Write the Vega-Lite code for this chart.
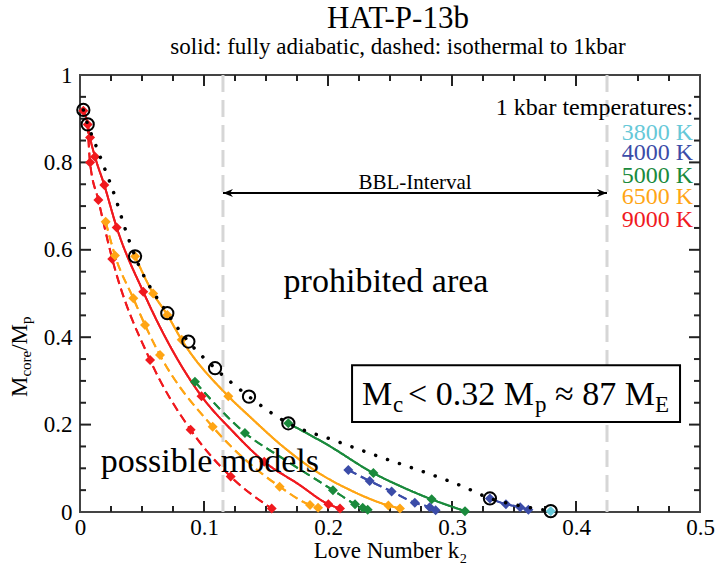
{
 "$schema": "https://vega.github.io/schema/vega-lite/v6.json",
 "width": 620,
 "height": 437,
 "autosize": {"type": "none"},
 "padding": {"left": 80, "top": 75, "right": 16, "bottom": 55},
 "background": "white",
 "config": {"view": {"stroke": "#444", "strokeWidth": 2}, "font": "Liberation Serif"},
 "title": {"text": "HAT-P-13b", "subtitle": "solid: fully adiabatic, dashed: isothermal to 1kbar", "font": "Liberation Serif", "fontSize": 31, "fontWeight": "normal", "color": "black", "subtitleFont": "Liberation Serif", "subtitleFontSize": 23, "subtitleColor": "black", "subtitlePadding": 1, "anchor": "middle", "frame": "group", "offset": 4, "dx": 8},
 "datasets": {
  "curves": [
   {"series": "r_a", "temp": "9000 K", "style": "adiabatic", "k": 0.0027, "m": 0.92},
   {"series": "r_a", "temp": "9000 K", "style": "adiabatic", "k": 0.0062, "m": 0.887},
   {"series": "r_a", "temp": "9000 K", "style": "adiabatic", "k": 0.0081, "m": 0.857},
   {"series": "r_a", "temp": "9000 K", "style": "adiabatic", "k": 0.0121, "m": 0.813},
   {"series": "r_a", "temp": "9000 K", "style": "adiabatic", "k": 0.0196, "m": 0.748},
   {"series": "r_a", "temp": "9000 K", "style": "adiabatic", "k": 0.0296, "m": 0.651},
   {"series": "r_a", "temp": "9000 K", "style": "adiabatic", "k": 0.051, "m": 0.504},
   {"series": "r_a", "temp": "9000 K", "style": "adiabatic", "k": 0.098, "m": 0.265},
   {"series": "r_a", "temp": "9000 K", "style": "adiabatic", "k": 0.123, "m": 0.185},
   {"series": "r_a", "temp": "9000 K", "style": "adiabatic", "k": 0.1486, "m": 0.115},
   {"series": "r_a", "temp": "9000 K", "style": "adiabatic", "k": 0.176, "m": 0.064},
   {"series": "r_a", "temp": "9000 K", "style": "adiabatic", "k": 0.2003, "m": 0.018},
   {"series": "r_a", "temp": "9000 K", "style": "adiabatic", "k": 0.2097, "m": 0.008},
   {"series": "r_i", "temp": "9000 K", "style": "isothermal", "k": 0.0062, "m": 0.887},
   {"series": "r_i", "temp": "9000 K", "style": "isothermal", "k": 0.0081, "m": 0.8},
   {"series": "r_i", "temp": "9000 K", "style": "isothermal", "k": 0.0148, "m": 0.714},
   {"series": "r_i", "temp": "9000 K", "style": "isothermal", "k": 0.026, "m": 0.579},
   {"series": "r_i", "temp": "9000 K", "style": "isothermal", "k": 0.0565, "m": 0.348},
   {"series": "r_i", "temp": "9000 K", "style": "isothermal", "k": 0.0892, "m": 0.188},
   {"series": "r_i", "temp": "9000 K", "style": "isothermal", "k": 0.1215, "m": 0.081},
   {"series": "r_i", "temp": "9000 K", "style": "isothermal", "k": 0.1546, "m": 0.008},
   {"series": "o_a", "temp": "6500 K", "style": "adiabatic", "k": 0.0444, "m": 0.585},
   {"series": "o_a", "temp": "6500 K", "style": "adiabatic", "k": 0.059, "m": 0.5},
   {"series": "o_a", "temp": "6500 K", "style": "adiabatic", "k": 0.0704, "m": 0.451},
   {"series": "o_a", "temp": "6500 K", "style": "adiabatic", "k": 0.082, "m": 0.394},
   {"series": "o_a", "temp": "6500 K", "style": "adiabatic", "k": 0.1196, "m": 0.265},
   {"series": "o_a", "temp": "6500 K", "style": "adiabatic", "k": 0.137, "m": 0.218},
   {"series": "o_a", "temp": "6500 K", "style": "adiabatic", "k": 0.164, "m": 0.149},
   {"series": "o_a", "temp": "6500 K", "style": "adiabatic", "k": 0.191, "m": 0.092},
   {"series": "o_a", "temp": "6500 K", "style": "adiabatic", "k": 0.218, "m": 0.05},
   {"series": "o_a", "temp": "6500 K", "style": "adiabatic", "k": 0.2487, "m": 0.015},
   {"series": "o_a", "temp": "6500 K", "style": "adiabatic", "k": 0.258, "m": 0.008},
   {"series": "o_i", "temp": "6500 K", "style": "isothermal", "k": 0.0207, "m": 0.664},
   {"series": "o_i", "temp": "6500 K", "style": "isothermal", "k": 0.0282, "m": 0.587},
   {"series": "o_i", "temp": "6500 K", "style": "isothermal", "k": 0.043, "m": 0.489},
   {"series": "o_i", "temp": "6500 K", "style": "isothermal", "k": 0.0524, "m": 0.428},
   {"series": "o_i", "temp": "6500 K", "style": "isothermal", "k": 0.0645, "m": 0.359},
   {"series": "o_i", "temp": "6500 K", "style": "isothermal", "k": 0.107, "m": 0.195},
   {"series": "o_i", "temp": "6500 K", "style": "isothermal", "k": 0.161, "m": 0.058},
   {"series": "o_i", "temp": "6500 K", "style": "isothermal", "k": 0.1855, "m": 0.016},
   {"series": "o_i", "temp": "6500 K", "style": "isothermal", "k": 0.192, "m": 0.01},
   {"series": "g_a", "temp": "5000 K", "style": "adiabatic", "k": 0.168, "m": 0.203},
   {"series": "g_a", "temp": "5000 K", "style": "adiabatic", "k": 0.2, "m": 0.153},
   {"series": "g_a", "temp": "5000 K", "style": "adiabatic", "k": 0.2366, "m": 0.089},
   {"series": "g_a", "temp": "5000 K", "style": "adiabatic", "k": 0.26, "m": 0.057},
   {"series": "g_a", "temp": "5000 K", "style": "adiabatic", "k": 0.2836, "m": 0.029},
   {"series": "g_a", "temp": "5000 K", "style": "adiabatic", "k": 0.3105, "m": 0.002},
   {"series": "g_i", "temp": "5000 K", "style": "isothermal", "k": 0.0927, "m": 0.298},
   {"series": "g_i", "temp": "5000 K", "style": "isothermal", "k": 0.133, "m": 0.181},
   {"series": "g_i", "temp": "5000 K", "style": "isothermal", "k": 0.165, "m": 0.12},
   {"series": "g_i", "temp": "5000 K", "style": "isothermal", "k": 0.204, "m": 0.05},
   {"series": "g_i", "temp": "5000 K", "style": "isothermal", "k": 0.2218, "m": 0.018},
   {"series": "g_i", "temp": "5000 K", "style": "isothermal", "k": 0.228, "m": 0.01},
   {"series": "g_i", "temp": "5000 K", "style": "isothermal", "k": 0.232, "m": 0.005},
   {"series": "b_i", "temp": "4000 K", "style": "isothermal", "k": 0.2164, "m": 0.096},
   {"series": "b_i", "temp": "4000 K", "style": "isothermal", "k": 0.2336, "m": 0.071},
   {"series": "b_i", "temp": "4000 K", "style": "isothermal", "k": 0.2513, "m": 0.047},
   {"series": "b_i", "temp": "4000 K", "style": "isothermal", "k": 0.27, "m": 0.021},
   {"series": "b_i", "temp": "4000 K", "style": "isothermal", "k": 0.282, "m": 0.011},
   {"series": "b_i", "temp": "4000 K", "style": "isothermal", "k": 0.2868, "m": 0.004},
   {"series": "b_a", "temp": "4000 K", "style": "adiabatic", "k": 0.3306, "m": 0.031},
   {"series": "b_a", "temp": "4000 K", "style": "adiabatic", "k": 0.3435, "m": 0.018},
   {"series": "b_a", "temp": "4000 K", "style": "adiabatic", "k": 0.355, "m": 0.011},
   {"series": "b_a", "temp": "4000 K", "style": "adiabatic", "k": 0.3616, "m": 0.005}
  ],
  "markers": [
   {"temp": "9000 K", "k": 0.0027, "m": 0.918},
   {"temp": "9000 K", "k": 0.0062, "m": 0.887},
   {"temp": "9000 K", "k": 0.0081, "m": 0.857},
   {"temp": "9000 K", "k": 0.0121, "m": 0.813},
   {"temp": "9000 K", "k": 0.0081, "m": 0.8},
   {"temp": "9000 K", "k": 0.0196, "m": 0.748},
   {"temp": "9000 K", "k": 0.0148, "m": 0.714},
   {"temp": "9000 K", "k": 0.0296, "m": 0.651},
   {"temp": "9000 K", "k": 0.026, "m": 0.579},
   {"temp": "9000 K", "k": 0.051, "m": 0.504},
   {"temp": "9000 K", "k": 0.0565, "m": 0.348},
   {"temp": "9000 K", "k": 0.098, "m": 0.265},
   {"temp": "9000 K", "k": 0.0892, "m": 0.188},
   {"temp": "9000 K", "k": 0.1486, "m": 0.115},
   {"temp": "9000 K", "k": 0.1215, "m": 0.081},
   {"temp": "9000 K", "k": 0.2003, "m": 0.018},
   {"temp": "9000 K", "k": 0.2097, "m": 0.008},
   {"temp": "9000 K", "k": 0.1546, "m": 0.008},
   {"temp": "6500 K", "k": 0.0444, "m": 0.585},
   {"temp": "6500 K", "k": 0.059, "m": 0.5},
   {"temp": "6500 K", "k": 0.0704, "m": 0.451},
   {"temp": "6500 K", "k": 0.082, "m": 0.394},
   {"temp": "6500 K", "k": 0.1196, "m": 0.265},
   {"temp": "6500 K", "k": 0.2487, "m": 0.015},
   {"temp": "6500 K", "k": 0.258, "m": 0.008},
   {"temp": "6500 K", "k": 0.0207, "m": 0.664},
   {"temp": "6500 K", "k": 0.0282, "m": 0.587},
   {"temp": "6500 K", "k": 0.043, "m": 0.489},
   {"temp": "6500 K", "k": 0.0524, "m": 0.428},
   {"temp": "6500 K", "k": 0.0645, "m": 0.359},
   {"temp": "6500 K", "k": 0.107, "m": 0.195},
   {"temp": "6500 K", "k": 0.161, "m": 0.058},
   {"temp": "6500 K", "k": 0.1855, "m": 0.016},
   {"temp": "6500 K", "k": 0.192, "m": 0.01},
   {"temp": "5000 K", "k": 0.168, "m": 0.203},
   {"temp": "5000 K", "k": 0.2366, "m": 0.089},
   {"temp": "5000 K", "k": 0.2836, "m": 0.029},
   {"temp": "5000 K", "k": 0.3105, "m": 0.002},
   {"temp": "5000 K", "k": 0.0927, "m": 0.298},
   {"temp": "5000 K", "k": 0.133, "m": 0.181},
   {"temp": "5000 K", "k": 0.204, "m": 0.05},
   {"temp": "5000 K", "k": 0.2218, "m": 0.018},
   {"temp": "5000 K", "k": 0.228, "m": 0.01},
   {"temp": "5000 K", "k": 0.232, "m": 0.005},
   {"temp": "4000 K", "k": 0.2164, "m": 0.096},
   {"temp": "4000 K", "k": 0.2336, "m": 0.071},
   {"temp": "4000 K", "k": 0.2513, "m": 0.047},
   {"temp": "4000 K", "k": 0.27, "m": 0.021},
   {"temp": "4000 K", "k": 0.282, "m": 0.011},
   {"temp": "4000 K", "k": 0.2868, "m": 0.004},
   {"temp": "4000 K", "k": 0.3306, "m": 0.031},
   {"temp": "4000 K", "k": 0.3435, "m": 0.018},
   {"temp": "4000 K", "k": 0.355, "m": 0.011},
   {"temp": "4000 K", "k": 0.3616, "m": 0.005},
   {"temp": "3800 K", "k": 0.3796, "m": 0.002}
  ],
  "boundary": [
   {"k": 0.0027, "m": 0.92}, {"k": 0.0062, "m": 0.887}, {"k": 0.0121, "m": 0.844}, {"k": 0.0188, "m": 0.794},
   {"k": 0.0282, "m": 0.722}, {"k": 0.0363, "m": 0.649}, {"k": 0.0444, "m": 0.585}, {"k": 0.0704, "m": 0.455},
   {"k": 0.0874, "m": 0.39}, {"k": 0.1089, "m": 0.329}, {"k": 0.1363, "m": 0.264}, {"k": 0.168, "m": 0.203},
   {"k": 0.204, "m": 0.165}, {"k": 0.242, "m": 0.126}, {"k": 0.277, "m": 0.092}, {"k": 0.31, "m": 0.057},
   {"k": 0.3306, "m": 0.031}, {"k": 0.352, "m": 0.016}, {"k": 0.3796, "m": 0.002}
  ],
  "circles": [
   {"k": 0.0027, "m": 0.92}, {"k": 0.0062, "m": 0.887}, {"k": 0.0444, "m": 0.585}, {"k": 0.0704, "m": 0.455},
   {"k": 0.0874, "m": 0.39}, {"k": 0.1089, "m": 0.329}, {"k": 0.1363, "m": 0.264}, {"k": 0.168, "m": 0.203},
   {"k": 0.3306, "m": 0.031}, {"k": 0.3796, "m": 0.002}
  ],
  "xMajor": [{"k": 0.1}, {"k": 0.2}, {"k": 0.3}, {"k": 0.4}],
  "xMinor": [{"k": 0.025}, {"k": 0.05}, {"k": 0.075}, {"k": 0.125}, {"k": 0.15}, {"k": 0.175}, {"k": 0.225}, {"k": 0.25}, {"k": 0.275}, {"k": 0.325}, {"k": 0.35}, {"k": 0.375}, {"k": 0.425}, {"k": 0.45}, {"k": 0.475}],
  "yMajor": [{"m": 0.2}, {"m": 0.4}, {"m": 0.6}, {"m": 0.8}],
  "yMinor": [{"m": 0.05}, {"m": 0.1}, {"m": 0.15}, {"m": 0.25}, {"m": 0.3}, {"m": 0.35}, {"m": 0.45}, {"m": 0.5}, {"m": 0.55}, {"m": 0.65}, {"m": 0.7}, {"m": 0.75}, {"m": 0.85}, {"m": 0.9}, {"m": 0.95}],
  "bbl": [{"k": 0.1153}, {"k": 0.425}],
  "arrow": [{"k1": 0.1153, "k2": 0.425, "m": 0.73}],
  "heads": [{"dir": "left", "k": 0.1153, "m": 0.73}, {"dir": "right", "k": 0.425, "m": 0.73}],
  "bigNotes": [
   {"text": "prohibited area", "k": 0.2468, "m": 0.503},
   {"text": "possible models", "k": 0.1048, "m": 0.0915}
  ],
  "bblLabel": [{"text": "BBL-Interval", "k": 0.2702, "m": 0.739}],
  "legendHead": [{"text": "1 kbar temperatures:", "k": 0.4944, "m": 0.9085}],
  "legendItems": [
   {"temp": "3800 K", "k": 0.4944, "m": 0.851},
   {"temp": "4000 K", "k": 0.4944, "m": 0.8055},
   {"temp": "5000 K", "k": 0.4944, "m": 0.752},
   {"temp": "6500 K", "k": 0.4944, "m": 0.705},
   {"temp": "9000 K", "k": 0.4944, "m": 0.653}
  ],
  "box": [{"k1": 0.2194, "k2": 0.4839, "m1": 0.206, "m2": 0.336}],
  "boxBig": [
   {"text": "M", "k": 0.2274, "m": 0.2449},
   {"text": "< 0.32 M", "k": 0.2645, "m": 0.2449},
   {"text": "≈ 87 M", "k": 0.3831, "m": 0.2449}
  ],
  "boxSmall": [
   {"text": "c", "k": 0.2524, "m": 0.2288},
   {"text": "p", "k": 0.3669, "m": 0.2288},
   {"text": "E", "k": 0.4637, "m": 0.2288}
  ],
  "ytitleBig": [
   {"text": "M", "k": -0.0427, "m": 0.2632},
   {"text": "/M", "k": -0.0427, "m": 0.3689}
  ],
  "ytitleSmall": [
   {"text": "core", "k": -0.0395, "m": 0.3098},
   {"text": "p", "k": -0.0395, "m": 0.4302}
  ]
 },
 "layer": [
  {
   "data": {"name": "curves"},
   "mark": {"type": "line", "strokeWidth": 2, "interpolate": "monotone"},
   "encoding": {
    "x": {"field": "k", "type": "quantitative", "scale": {"domain": [0, 0.5], "nice": false, "zero": false},
     "axis": {"orient": "bottom", "values": [0, 0.1, 0.2, 0.3, 0.4, 0.5],
      "ticks": false, "domain": false, "grid": false,
      "labelExpr": "format(datum.value, '.1~f')",
      "labelFont": "Liberation Serif", "labelFontSize": 23, "labelColor": "black", "labelPadding": 4, "labelFlush": false, "labelOverlap": false,
      "title": "Love Number k₂", "titleFont": "Liberation Serif", "titleFontSize": 23, "titleFontWeight": "normal", "titleColor": "black", "titlePadding": 0}},
    "y": {"field": "m", "type": "quantitative", "scale": {"domain": [0, 1], "nice": false, "zero": false},
     "axis": {"orient": "left", "values": [0, 0.2, 0.4, 0.6, 0.8, 1],
      "ticks": false, "domain": false, "grid": false,
      "labelExpr": "format(datum.value, '.1~f')",
      "labelFont": "Liberation Serif", "labelFontSize": 23, "labelColor": "black", "labelPadding": 8, "labelFlush": false, "labelOverlap": false,
      "title": null}},
    "color": {"field": "temp", "type": "nominal", "legend": null, "scale": {"domain": ["3800 K", "4000 K", "5000 K", "6500 K", "9000 K"], "range": ["#66c8d8", "#3b4ca8", "#1a8a3c", "#ffa514", "#f0191e"]}},
    "strokeDash": {"field": "style", "type": "nominal", "legend": null, "scale": {"domain": ["adiabatic", "isothermal"], "range": [[1, 0], [9, 5]]}},
    "detail": {"field": "series"}
   }
  },
  {
   "data": {"name": "xMajor"},
   "mark": {"type": "tick", "orient": "vertical", "size": 11, "thickness": 2, "color": "#222", "opacity": 1, "yOffset": -5.5},
   "encoding": {"x": {"field": "k", "type": "quantitative"}, "y": {"datum": 0, "type": "quantitative"}}
  },
  {
   "data": {"name": "xMajor"},
   "mark": {"type": "tick", "orient": "vertical", "size": 11, "thickness": 2, "color": "#222", "opacity": 1, "yOffset": 5.5},
   "encoding": {"x": {"field": "k", "type": "quantitative"}, "y": {"datum": 1, "type": "quantitative"}}
  },
  {
   "data": {"name": "xMinor"},
   "mark": {"type": "tick", "orient": "vertical", "size": 6, "thickness": 2, "color": "#222", "opacity": 1, "yOffset": -3},
   "encoding": {"x": {"field": "k", "type": "quantitative"}, "y": {"datum": 0, "type": "quantitative"}}
  },
  {
   "data": {"name": "xMinor"},
   "mark": {"type": "tick", "orient": "vertical", "size": 6, "thickness": 2, "color": "#222", "opacity": 1, "yOffset": 3},
   "encoding": {"x": {"field": "k", "type": "quantitative"}, "y": {"datum": 1, "type": "quantitative"}}
  },
  {
   "data": {"name": "yMajor"},
   "mark": {"type": "tick", "orient": "horizontal", "size": 11, "thickness": 2, "color": "#222", "opacity": 1, "xOffset": 5.5},
   "encoding": {"y": {"field": "m", "type": "quantitative"}, "x": {"datum": 0, "type": "quantitative"}}
  },
  {
   "data": {"name": "yMajor"},
   "mark": {"type": "tick", "orient": "horizontal", "size": 11, "thickness": 2, "color": "#222", "opacity": 1, "xOffset": -5.5},
   "encoding": {"y": {"field": "m", "type": "quantitative"}, "x": {"datum": 0.5, "type": "quantitative"}}
  },
  {
   "data": {"name": "yMinor"},
   "mark": {"type": "tick", "orient": "horizontal", "size": 6, "thickness": 2, "color": "#222", "opacity": 1, "xOffset": 3},
   "encoding": {"y": {"field": "m", "type": "quantitative"}, "x": {"datum": 0, "type": "quantitative"}}
  },
  {
   "data": {"name": "yMinor"},
   "mark": {"type": "tick", "orient": "horizontal", "size": 6, "thickness": 2, "color": "#222", "opacity": 1, "xOffset": -3},
   "encoding": {"y": {"field": "m", "type": "quantitative"}, "x": {"datum": 0.5, "type": "quantitative"}}
  },
  {
   "data": {"name": "bbl"},
   "mark": {"type": "rule", "color": "#d6d6d6", "strokeWidth": 3, "strokeDash": [17, 8]},
   "encoding": {
    "x": {"field": "k", "type": "quantitative"}
   }
  },
  {
   "data": {"name": "box"},
   "mark": {"type": "rect", "fill": "white", "stroke": "black", "strokeWidth": 2},
   "encoding": {
    "x": {"field": "k1", "type": "quantitative"},
    "x2": {"field": "k2"},
    "y": {"field": "m1", "type": "quantitative"},
    "y2": {"field": "m2"}
   }
  },
  {
   "data": {"name": "curves"},
   "mark": {"type": "line", "strokeWidth": 2, "interpolate": "monotone"},
   "encoding": {
    "x": {"field": "k", "type": "quantitative"},
    "y": {"field": "m", "type": "quantitative"},
    "color": {"field": "temp", "type": "nominal", "legend": null},
    "strokeDash": {"field": "style", "type": "nominal", "legend": null},
    "detail": {"field": "series"}
   }
  },
  {
   "data": {"name": "markers"},
   "mark": {"type": "point", "shape": "diamond", "filled": true, "size": 100, "opacity": 1},
   "encoding": {
    "x": {"field": "k", "type": "quantitative"},
    "y": {"field": "m", "type": "quantitative"},
    "color": {"field": "temp", "type": "nominal", "legend": null}
   }
  },
  {
   "data": {"name": "boundary"},
   "mark": {"type": "line", "color": "black", "strokeWidth": 3.5, "strokeCap": "round", "strokeDash": [0.1, 12.5], "interpolate": "monotone"},
   "encoding": {
    "x": {"field": "k", "type": "quantitative"},
    "y": {"field": "m", "type": "quantitative"}
   }
  },
  {
   "data": {"name": "circles"},
   "mark": {"type": "point", "shape": "circle", "filled": false, "size": 150, "stroke": "black", "strokeWidth": 2, "opacity": 1},
   "encoding": {
    "x": {"field": "k", "type": "quantitative"},
    "y": {"field": "m", "type": "quantitative"}
   }
  },
  {
   "data": {"name": "arrow"},
   "mark": {"type": "rule", "color": "black", "strokeWidth": 2},
   "encoding": {
    "x": {"field": "k1", "type": "quantitative"},
    "x2": {"field": "k2"},
    "y": {"field": "m", "type": "quantitative"}
   }
  },
  {
   "data": {"name": "heads"},
   "mark": {"type": "point", "filled": true, "color": "black", "size": 100, "opacity": 1},
   "encoding": {
    "x": {"field": "k", "type": "quantitative"},
    "y": {"field": "m", "type": "quantitative"},
    "shape": {"field": "dir", "type": "nominal", "legend": null, "scale": {"domain": ["left", "right"], "range": ["M0,0L2,-0.8L1.4,0L2,0.8Z", "M0,0L-2,-0.8L-1.4,0L-2,0.8Z"]}}
   }
  },
  {
   "data": {"name": "bigNotes"},
   "mark": {"type": "text", "font": "Liberation Serif", "fontSize": 34, "align": "center", "baseline": "alphabetic", "color": "black"},
   "encoding": {
    "x": {"field": "k", "type": "quantitative"},
    "y": {"field": "m", "type": "quantitative"},
    "text": {"field": "text"}
   }
  },
  {
   "data": {"name": "bblLabel"},
   "mark": {"type": "text", "font": "Liberation Serif", "fontSize": 21, "align": "center", "baseline": "alphabetic", "color": "black"},
   "encoding": {
    "x": {"field": "k", "type": "quantitative"},
    "y": {"field": "m", "type": "quantitative"},
    "text": {"field": "text"}
   }
  },
  {
   "data": {"name": "legendHead"},
   "mark": {"type": "text", "font": "Liberation Serif", "fontSize": 24, "align": "right", "baseline": "alphabetic", "color": "black"},
   "encoding": {
    "x": {"field": "k", "type": "quantitative"},
    "y": {"field": "m", "type": "quantitative"},
    "text": {"field": "text"}
   }
  },
  {
   "data": {"name": "legendItems"},
   "mark": {"type": "text", "font": "Liberation Serif", "fontSize": 24, "align": "right", "baseline": "alphabetic"},
   "encoding": {
    "x": {"field": "k", "type": "quantitative"},
    "y": {"field": "m", "type": "quantitative"},
    "text": {"field": "temp"},
    "color": {"field": "temp", "type": "nominal", "legend": null}
   }
  },
  {
   "data": {"name": "boxBig"},
   "mark": {"type": "text", "font": "Liberation Serif", "fontSize": 34, "align": "left", "baseline": "alphabetic", "color": "black"},
   "encoding": {
    "x": {"field": "k", "type": "quantitative"},
    "y": {"field": "m", "type": "quantitative"},
    "text": {"field": "text"}
   }
  },
  {
   "data": {"name": "boxSmall"},
   "mark": {"type": "text", "font": "Liberation Serif", "fontSize": 23, "align": "left", "baseline": "alphabetic", "color": "black"},
   "encoding": {
    "x": {"field": "k", "type": "quantitative"},
    "y": {"field": "m", "type": "quantitative"},
    "text": {"field": "text"}
   }
  },
  {
   "data": {"name": "ytitleBig"},
   "mark": {"type": "text", "font": "Liberation Serif", "fontSize": 23, "align": "left", "baseline": "alphabetic", "angle": 270, "color": "black"},
   "encoding": {
    "x": {"field": "k", "type": "quantitative"},
    "y": {"field": "m", "type": "quantitative"},
    "text": {"field": "text"}
   }
  },
  {
   "data": {"name": "ytitleSmall"},
   "mark": {"type": "text", "font": "Liberation Serif", "fontSize": 15, "align": "left", "baseline": "alphabetic", "angle": 270, "color": "black"},
   "encoding": {
    "x": {"field": "k", "type": "quantitative"},
    "y": {"field": "m", "type": "quantitative"},
    "text": {"field": "text"}
   }
  }
 ]
}
